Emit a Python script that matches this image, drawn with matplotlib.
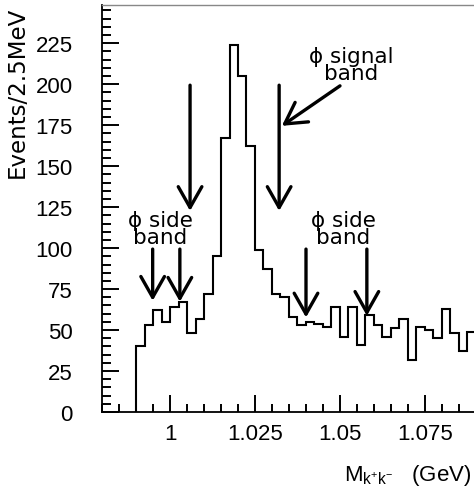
import numpy as np
import matplotlib
matplotlib.use("Agg")
import matplotlib.pyplot as plt
from matplotlib.ticker import MultipleLocator

# histogram of K+K- invariant mass, 2.5 MeV bins starting at 0.990 GeV
bin_lo = 0.990
bin_width = 0.0025
counts = [40, 53, 62, 55, 64, 67, 48, 57, 72, 95,
          167, 224, 205, 162, 99, 87, 72, 70, 58, 53,
          55, 54, 52, 64, 46, 64, 41, 59, 53, 46,
          51, 57, 32, 52, 50, 45, 63, 48, 37, 49]

# band markers: (x, y_top, y_tip)
side_left = [(0.9949, 99.4, 67.9), (1.0029, 99.4, 67.3)]
signal = [(1.0059, 199.4, 122.7), (1.0321, 199.4, 122.7)]
side_right = [(1.0400, 99.4, 57.7), (1.0579, 99.4, 58.7)]
pointer_tail = (1.0500, 199.0)
pointer_tip = (1.0329, 174.6)

x_ticks = [1.0, 1.025, 1.05, 1.075]
x_labels = ["1", "1.025", "1.05", "1.075"]
y_ticks = [0, 25, 50, 75, 100, 125, 150, 175, 200, 225]

edges = bin_lo + bin_width * np.arange(len(counts) + 1)

fig = plt.figure(figsize=(4.74, 4.89), dpi=100)
ax = fig.add_axes([0.2152, 0.1554, 0.789, 0.8329])

ax.stairs(counts, edges, baseline=0, color="black", lw=1.5)

ax.set_xlim(0.98, 1.09)
ax.set_ylim(0, 248.5)

ax.set_xticks(x_ticks)
ax.set_xticklabels(x_labels, family="Liberation Sans", fontsize=16)
ax.set_yticks(y_ticks)
ax.set_yticklabels([str(v) for v in y_ticks], family="Liberation Sans", fontsize=16)
ax.xaxis.set_minor_locator(MultipleLocator(0.005))
ax.yaxis.set_minor_locator(MultipleLocator(5))

ax.tick_params(which="both", direction="in", top=False, right=False, width=1.4)
ax.tick_params(axis="x", which="major", length=12, pad=8)
ax.tick_params(axis="x", which="minor", length=5.5)
ax.tick_params(axis="y", which="major", length=12, pad=21)
ax.tick_params(axis="y", which="minor", length=6.3)

ax.spines["right"].set_visible(False)
ax.spines["top"].set_color("#888888")
ax.spines["top"].set_linewidth(1.0)
ax.spines["left"].set_linewidth(1.3)
ax.spines["bottom"].set_linewidth(1.3)

arrow_kw = dict(arrowstyle="->,head_length=1.5,head_width=0.85", lw=2.4,
                color="black", shrinkA=0, shrinkB=0, mutation_scale=10)
for x, y0, y1 in side_left + signal + side_right:
    ax.annotate("", xy=(x, y1), xytext=(x, y0), arrowprops=arrow_kw)
ax.annotate("", xy=pointer_tip, xytext=pointer_tail, arrowprops=arrow_kw)

txt_kw = dict(family="DejaVu Sans", fontsize=15.5, ha="center", va="center",
              linespacing=0.8)
ax.text(0.9971, 112.2, "\u03d5 side\nband", **txt_kw)
ax.text(1.0509, 112.2, "\u03d5 side\nband", **txt_kw)
ax.text(1.0532, 211.9, "\u03d5 signal\nband", **txt_kw)

fig.text(17 / 474, 1 - 7 / 489, "Events/2.5MeV", rotation=90, ha="center",
         va="top", family="DejaVu Sans", fontsize=16.5)
fig.text(471 / 474, 1 - 476 / 489, r"$\mathregular{M_{k^{+}k^{-}}}$   (GeV)",
         ha="right", va="center", family="Liberation Sans", fontsize=16)

fig.savefig("out.png", dpi=100)
